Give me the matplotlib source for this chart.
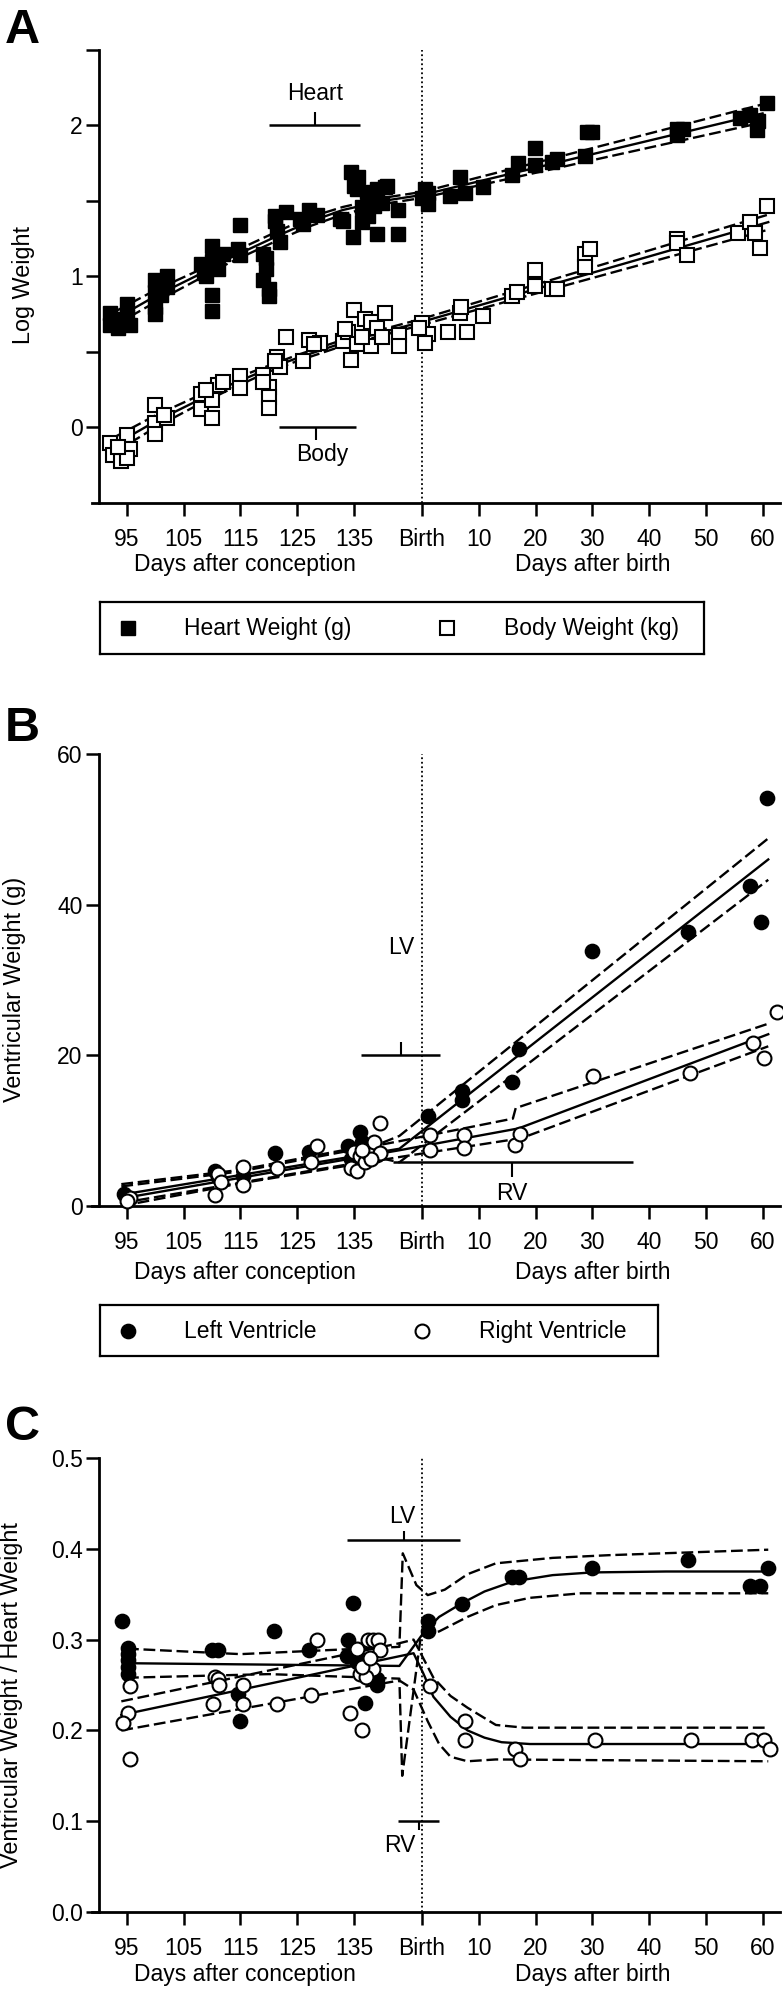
import matplotlib
matplotlib.use('Agg')
import matplotlib.pyplot as plt
import matplotlib.transforms as mtransforms

plt.rcParams['font.family'] = ['Liberation Sans', 'DejaVu Sans']

W, H, DPI = 783, 1991, 100

# ---------------- shared x axis (days after conception; birth = 147) ----------------
BIRTH = 147
x_ticks = [95, 105, 115, 125, 135, 147, 157, 167, 177, 187, 197, 207]
x_tick_labels = ['95', '105', '115', '125', '135', 'Birth', '10', '20', '30', '40', '50', '60']

# ---------------- Panel A: log weight ----------------
heart_t = [92, 92, 93.5, 95, 95, 95.5, 94,
           100, 100, 100, 100, 102, 102, 101,
           108, 108.5, 110, 110, 111, 112, 110, 110, 109,
           115, 115, 114.5,
           119, 119.5, 119, 120, 120, 119.5,
           121, 123, 121.5, 122, 121,
           125.5, 127, 128.5, 126,
           133, 134.8, 135.7, 135.5, 134.5, 135, 132.5,
           137.3, 139, 138.5, 140.8, 140, 139, 137.5, 136.5, 142.8, 142.8, 140.5, 138, 136.5,
           147, 148, 147.5, 148,
           151.9, 153.7, 154.6, 157.7, 163.9, 162.8, 166.9, 166.9, 169.9, 170.8,
           176, 177, 175.7, 191.9, 192, 193, 203, 204.8, 206, 206.2, 207.8]
heart_v = [0.76, 0.68, 0.66, 0.82, 0.73, 0.68, 0.72,
           0.98, 0.90, 0.80, 0.75, 1.00, 0.93, 0.88,
           1.08, 1.02, 1.20, 1.10, 1.05, 1.15, 0.88, 0.77, 1.00,
           1.34, 1.14, 1.18,
           1.15, 1.05, 0.98, 0.92, 0.87, 1.12,
           1.37, 1.43, 1.30, 1.23, 1.40,
           1.38, 1.44, 1.41, 1.35,
           1.37, 1.26, 1.66, 1.58, 1.69, 1.60, 1.38,
           1.56, 1.58, 1.47, 1.60, 1.49, 1.28, 1.40, 1.46, 1.28, 1.44, 1.59, 1.52, 1.36,
           1.52, 1.48, 1.58, 1.55,
           1.53, 1.66, 1.55, 1.59, 1.75, 1.67, 1.85, 1.74, 1.76, 1.78,
           1.96, 1.96, 1.80, 1.98, 1.94, 1.98, 2.05, 2.07, 1.97, 2.03, 2.15]

body_t = [92, 92.5, 94, 95, 95.5, 95, 93.5,
          100, 100, 100, 102, 101.5,
          108, 108, 110, 110, 111, 112, 109,
          115, 115,
          119, 120, 120, 120, 119,
          123, 121.5, 122, 121,
          126, 127, 129, 128,
          135, 133, 134.5, 134, 135.5, 133.5, 137, 138, 140.5, 139, 138, 143, 143, 136.5, 140,
          147, 148, 147.5, 146.5,
          151.6, 154.9, 153.7, 153.9, 157.7, 162.8, 163.7, 166.9, 166.9, 169.9, 170.8,
          175.7, 176.6, 175.7, 191.9, 191.9, 193.7, 202.7, 204.8, 205.7, 206.5, 207.8]
body_v = [-0.10, -0.18, -0.22, -0.05, -0.14, -0.20, -0.13,
          0.15, 0.03, -0.04, 0.06, 0.08,
          0.22, 0.12, 0.18, 0.06, 0.28, 0.30, 0.25,
          0.34, 0.26,
          0.35, 0.27, 0.20, 0.13, 0.30,
          0.60, 0.47, 0.40, 0.44,
          0.44, 0.58, 0.56, 0.55,
          0.78, 0.57, 0.45, 0.63, 0.55, 0.65, 0.72, 0.70, 0.76, 0.66, 0.54, 0.61, 0.54, 0.60, 0.60,
          0.69, 0.62, 0.56, 0.66,
          0.63, 0.63, 0.76, 0.80, 0.74, 0.87, 0.90, 1.04, 0.94, 0.92, 0.92,
          1.15, 1.18, 1.06, 1.25, 1.22, 1.14, 1.29, 1.36, 1.29, 1.19, 1.47]

heart_fit_t = [93, 100, 107, 113, 121, 127, 133, 140, 147, 207]
heart_fit = [0.72, 0.87, 1.00, 1.12, 1.26, 1.36, 1.44, 1.50, 1.54, 2.08]
heart_hi = [0.77, 0.91, 1.03, 1.15, 1.29, 1.39, 1.46, 1.52, 1.56, 2.14]
heart_lo = [0.68, 0.83, 0.97, 1.09, 1.23, 1.33, 1.41, 1.48, 1.52, 2.02]

body_fit_t = [93, 100, 107, 113, 120, 125, 133, 140, 147, 208]
body_fit = [-0.11, 0.04, 0.17, 0.28, 0.39, 0.46, 0.56, 0.63, 0.70, 1.36]
body_hi = [-0.06, 0.08, 0.20, 0.31, 0.41, 0.48, 0.58, 0.65, 0.72, 1.41]
body_lo = [-0.16, 0.00, 0.14, 0.25, 0.37, 0.44, 0.54, 0.61, 0.68, 1.31]

# ---------------- Panel B: ventricular weight (g) ----------------
lv_t = [94.5, 95, 110.5, 111, 115.5, 121, 127, 134, 135, 136, 136.5, 137, 138, 139, 134.5, 135.5,
        148.1, 154, 154, 164, 162.8, 176.9, 193.9, 204.8, 206.8, 207.8]
lv_w = [1.6, 1.2, 4.6, 3.9, 4.0, 7.1, 7.2, 8.0, 7.0, 9.8, 8.5, 6.5, 7.5, 6.8, 6.2, 5.8,
        11.9, 15.2, 14.1, 20.9, 16.5, 33.9, 36.4, 42.5, 37.7, 54.2]
rv_t = [95.5, 95, 110.5, 111, 111.5, 115.5, 115.5, 121.5, 127.5, 128.5, 135, 134.5, 135.5, 136,
        137, 137.5, 138.5, 139.5, 139.5, 138, 136.5,
        148.4, 148.4, 154.3, 154.3, 163.4, 164.3, 177.2, 194.2, 205.4, 207.3, 209.5]
rv_w = [1.0, 0.6, 1.5, 4.3, 3.2, 5.2, 2.8, 5.0, 5.9, 7.9, 7.2, 5.0, 4.6, 6.6,
        5.9, 7.0, 8.5, 11.0, 7.0, 6.2, 7.5,
        9.4, 7.4, 9.4, 7.7, 8.1, 9.6, 17.2, 17.6, 21.6, 19.6, 25.7]

lv_fit_t = [94, 143, 208]
lv_fit = [1.5, 7.6, 46.0]
lv_hi_t = [94, 115, 140, 143, 208]
lv_hi = [2.9, 4.8, 8.4, 9.3, 48.8]
lv_lo_t = [94, 115, 140, 143, 208]
lv_lo = [0.4, 3.1, 6.3, 5.8, 43.3]

rv_fit_t = [94, 143, 164, 208]
rv_fit = [1.0, 7.4, 10.3, 22.8]
rv_hi_t = [94, 115, 143, 163, 163.5, 208]
rv_hi = [2.6, 4.6, 8.6, 11.6, 13.0, 24.2]
rv_lo_t = [94, 115, 143, 164.5, 208]
rv_lo = [0.0, 3.0, 6.5, 9.0, 21.2]

# ---------------- Panel C: ventricular / heart weight ----------------
lvr_t = [94.1, 95.2, 95.2, 95.2, 95.2, 95.2, 110, 111, 114.9, 114.6, 120.9, 127,
         134, 134.8, 133.8, 136.4, 139, 137, 139, 135.5,
         148.1, 148.1, 154, 162.8, 164, 176.9, 193.9, 204.8, 206.5, 208]
lvr_v = [0.320, 0.291, 0.284, 0.277, 0.270, 0.262, 0.289, 0.289, 0.210, 0.240, 0.310, 0.289,
         0.300, 0.340, 0.282, 0.278, 0.250, 0.230, 0.257, 0.275,
         0.320, 0.309, 0.339, 0.369, 0.369, 0.379, 0.388, 0.359, 0.359, 0.379]
rvr_t = [95.5, 95.2, 94.3, 95.5, 110.5, 111.1, 111.2, 110.2, 115.5, 115.5, 121.4, 127.5, 128.4,
         134.3, 136.4, 135.5, 137.5, 138.3, 139.2, 139.6, 138.4, 136, 137.1, 136.5, 137.8,
         148.4, 154.6, 154.6, 163.4, 164.3, 177.5, 194.3, 205.2, 207.2, 208.3]
rvr_v = [0.249, 0.219, 0.208, 0.169, 0.259, 0.257, 0.250, 0.229, 0.250, 0.229, 0.229, 0.239, 0.300,
         0.219, 0.200, 0.290, 0.300, 0.300, 0.300, 0.289, 0.268, 0.262, 0.259, 0.270, 0.280,
         0.249, 0.210, 0.189, 0.180, 0.169, 0.189, 0.189, 0.189, 0.189, 0.179]

lvr_fit_t = [95, 143, 147.2, 150, 154, 158, 163, 170, 177, 190, 208]
lvr_fit = [0.274, 0.271, 0.307, 0.325, 0.340, 0.353, 0.364, 0.371, 0.374, 0.375, 0.375]
lvr_hi_t = [95, 115, 143, 143.6, 146, 148, 151, 155, 160, 170, 180, 208]
lvr_hi = [0.290, 0.284, 0.292, 0.395, 0.360, 0.349, 0.355, 0.372, 0.384, 0.390, 0.393, 0.399]
lvr_lo_t = [95, 120, 143, 143.5, 146.8, 150, 155, 160, 166, 175, 208]
lvr_lo = [0.258, 0.262, 0.257, 0.150, 0.305, 0.309, 0.325, 0.338, 0.346, 0.351, 0.351]

rvr_fit_t = [94, 145.5, 147.2, 149, 152, 155, 158, 161, 166, 208]
rvr_fit = [0.217, 0.285, 0.263, 0.237, 0.215, 0.200, 0.192, 0.187, 0.185, 0.185]
rvr_hi_t = [94, 143, 145.5, 149, 152, 155, 160, 165, 208]
rvr_hi = [0.232, 0.296, 0.300, 0.258, 0.238, 0.225, 0.206, 0.203, 0.203]
rvr_lo_t = [94, 143, 145.5, 148, 150, 152, 155, 160, 208]
rvr_lo = [0.200, 0.255, 0.245, 0.210, 0.185, 0.171, 0.166, 0.168, 0.166]

# ---------------- drawing ----------------
fig = plt.figure(figsize=(W / DPI, H / DPI), dpi=DPI)

LEFT_PX, RIGHT_PX = 91.8, 779.6
TICK_FS = 16.5
LAB_FS = 16.8
DASH = (0, (5, 2))
LW = 1.7
MS_F, MS_O = 10.3, 10.0


def make_axes(top, bottom):
    return fig.add_axes([LEFT_PX / W, 1 - bottom / H, (RIGHT_PX - LEFT_PX) / W, (bottom - top) / H])


def style(ax, ylim, yticks, ylabels, ylabel, lab_x, lab_y, minor=None, xlab_off=62):
    ax.set_xlim(88.8, 210)
    ax.set_ylim(*ylim)
    for s in ['top', 'right']:
        ax.spines[s].set_visible(False)
    ax.spines['left'].set_position(('data', 90))
    for s in ['left', 'bottom']:
        ax.spines[s].set_linewidth(2.0)
    ax.set_xticks(x_ticks)
    ax.set_xticklabels(x_tick_labels)
    ax.set_yticks(yticks)
    ax.set_yticklabels(ylabels)
    if minor:
        ax.set_yticks(minor, minor=True)
    ax.tick_params(axis='both', which='both', length=9.7, width=1.8, labelsize=TICK_FS, direction='out')
    ax.tick_params(axis='x', pad=8.5)
    ax.tick_params(axis='y', pad=1.8)
    ax.axvline(BIRTH, color='black', lw=1.3, ls=(0, (1, 1.5)), zorder=1)
    ax.set_ylabel(ylabel, fontsize=LAB_FS)
    ax.yaxis.set_label_coords(lab_x, lab_y)
    trans = mtransforms.blended_transform_factory(ax.transData, ax.transAxes)
    hpx = ax.get_position().height * H
    ax.text(115.8, -xlab_off / hpx, 'Days after conception', transform=trans,
            ha='center', va='center', fontsize=TICK_FS)
    ax.text(177.1, -xlab_off / hpx, 'Days after birth', transform=trans,
            ha='center', va='center', fontsize=TICK_FS)


def fitlines(ax, t, y, tl, yl, th, yh):
    ax.plot(t, y, color='black', lw=LW, zorder=2)
    ax.plot(tl, yl, color='black', lw=LW, ls=DASH, zorder=2)
    ax.plot(th, yh, color='black', lw=LW, ls=DASH, zorder=2)


def bracket(ax, t0, t1, y, tt, y_tick, txt, ty, txt_t, fs=TICK_FS):
    ax.plot([t0, t1], [y, y], color='black', lw=1.8, zorder=2, solid_capstyle='butt')
    ax.plot([tt, tt], [y, y_tick], color='black', lw=1.5, zorder=2, solid_capstyle='butt')
    ax.text(txt_t, ty, txt, ha='center', va='center', fontsize=fs)


FILLED = dict(color='black', mec='black', mew=1.0, ls='none', clip_on=False)
OPEN = dict(mfc='white', mec='black', mew=1.5, ls='none', clip_on=False)

# Panel A
axA = make_axes(50, 503)
style(axA, (-0.5, 2.5), [0, 1, 2], ['0', '1', '2'], 'Log Weight', -0.0826, 0.481,
      minor=[0.5, 1.5, 2.5], xlab_off=62)
fitlines(axA, heart_fit_t, heart_fit, heart_fit_t, heart_lo, heart_fit_t, heart_hi)
fitlines(axA, body_fit_t, body_fit, body_fit_t, body_lo, body_fit_t, body_hi)
axA.plot(heart_t, heart_v, marker='s', ms=MS_F, zorder=3, **FILLED)
axA.plot(body_t, body_v, marker='s', ms=MS_O, zorder=3, **OPEN)
bracket(axA, 120, 136.1, 2.0, 128.1, 2.09, 'Heart', 2.215, 128.1)
bracket(axA, 121.8, 135.4, 0.0, 128.3, -0.08, 'Body', -0.18, 129.4)

# Panel B
axB = make_axes(754, 1206)
style(axB, (0, 60), [0, 20, 40, 60], ['0', '20', '40', '60'], 'Ventricular Weight (g)',
      -0.0957, 0.48, xlab_off=66)
fitlines(axB, lv_fit_t, lv_fit, lv_lo_t, lv_lo, lv_hi_t, lv_hi)
fitlines(axB, rv_fit_t, rv_fit, rv_lo_t, rv_lo, rv_hi_t, rv_hi)
axB.plot(lv_t, lv_w, marker='o', ms=MS_F, zorder=3, **FILLED)
axB.plot(rv_t, rv_w, marker='o', ms=MS_O, zorder=4, **OPEN)
bracket(axB, 136.3, 150.2, 20, 143.3, 21.8, 'LV', 34.3, 143.3)
bracket(axB, 141.8, 184.1, 5.9, 162.8, 3.9, 'RV', 1.6, 162.8)

# Panel C
axC = make_axes(1458, 1912)
style(axC, (0, 0.5), [0, 0.1, 0.2, 0.3, 0.4, 0.5], ['0.0', '0.1', '0.2', '0.3', '0.4', '0.5'],
      'Ventricular Weight / Heart Weight', -0.100, 0.477, xlab_off=63)
fitlines(axC, lvr_fit_t, lvr_fit, lvr_lo_t, lvr_lo, lvr_hi_t, lvr_hi)
fitlines(axC, rvr_fit_t, rvr_fit, rvr_lo_t, rvr_lo, rvr_hi_t, rvr_hi)
axC.plot(lvr_t, lvr_v, marker='o', ms=MS_F, zorder=3, **FILLED)
axC.plot(rvr_t, rvr_v, marker='o', ms=MS_O, zorder=4, **OPEN)
bracket(axC, 133.7, 153.7, 0.41, 143.8, 0.42, 'LV', 0.436, 143.5)
bracket(axC, 142.8, 149.9, 0.10, 146.5, 0.09, 'RV', 0.073, 143.1)


# Legends (boxes in pixel units)
def legend_box(x0, y0, x1, y1, items):
    ax = fig.add_axes([x0 / W, 1 - y1 / H, (x1 - x0) / W, (y1 - y0) / H])
    ax.set_xlim(0, x1 - x0)
    ax.set_ylim(y1 - y0, 0)
    ax.set_xticks([])
    ax.set_yticks([])
    for s in ax.spines.values():
        s.set_linewidth(1.6)
    yc = (y1 - y0) / 2
    for mx, marker, filled, tx, label in items:
        st = FILLED if filled else OPEN
        ax.plot([mx - x0], [yc], marker=marker, ms=MS_F if filled else MS_O, **st)
        ax.text(tx - x0, yc + 1, label, ha='left', va='center', fontsize=TICK_FS)


legend_box(100, 602, 704, 654, [(127.5, 's', True, 184, 'Heart Weight (g)'),
                                (446.5, 's', False, 503.5, 'Body Weight (kg)')])
legend_box(100, 1305, 658, 1356, [(127.5, 'o', True, 184, 'Left Ventricle'),
                                  (421.5, 'o', False, 479, 'Right Ventricle')])

# Panel letters
for letter, base in [('A', 43), ('B', 741), ('C', 1440)]:
    fig.text(5 / W, 1 - base / H, letter, fontsize=35, fontweight='bold', ha='left', va='baseline')

fig.savefig('out.png', dpi=DPI)
